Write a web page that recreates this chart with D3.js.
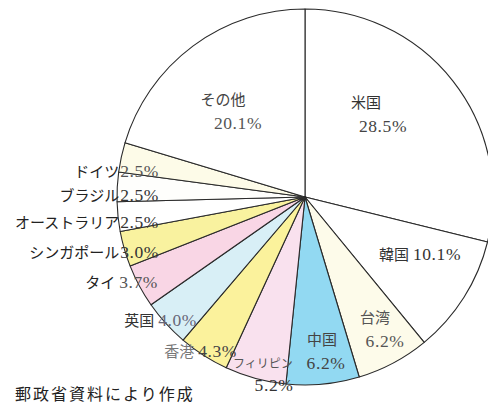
<!DOCTYPE html>
<html>
<head>
<meta charset="utf-8">
<script src="https://cdn.jsdelivr.net/npm/d3@7"></script>
<style>
  html, body { margin: 0; padding: 0; background: #fff; }
  svg { display: block; }
</style>
</head>
<body>
<svg id="chart" width="488" height="406"></svg>
<script>
// 国・地域別の構成比（%）、12時の位置から時計回り
const countries = ["米国", "韓国", "台湾", "中国", "フィリピン", "香港", "英国", "タイ", "シンガポール", "オーストラリア", "ブラジル", "ドイツ", "その他"];
const shares = [28.5, 10.1, 6.2, 6.2, 5.2, 4.3, 4.0, 3.7, 3.0, 2.5, 2.5, 2.5, 20.1];
const fills = ["#ffffff", "#ffffff", "#fdfbea", "#92d9f2", "#f9e1ee", "#fbf29c", "#d8eff6", "#f9d6e5", "#f9f29f", "#ffffff", "#fefefc", "#fdfbe8", "#ffffff"];
const sourceNote = "郵政省資料により作成";

// ラベルの配置（名前と数値を一行にするか二行にするか）
const labelLayout = [
  { x: 366, y: 103, anchor: "middle", lines: 2, dx2: 17, color: "#333", pct: "#444" },
  { x: 420, y: 255, anchor: "middle", lines: 1, color: "#333", pct: "#333" },
  { x: 375, y: 318, anchor: "middle", lines: 2, dx2: 10, color: "#555", pct: "#555" },
  { x: 322, y: 340, anchor: "middle", lines: 2, dx2: 4, color: "#444", pct: "#444" },
  { x: 263, y: 364, anchor: "middle", lines: 2, dx2: 11, color: "#555", pct: "#333", size: 12, gap: 21 },
  { x: 237, y: 352, anchor: "end", lines: 1, color: "#777", pct: "#444" },
  { x: 197, y: 321, anchor: "end", lines: 1, color: "#333", pct: "#667" },
  { x: 158, y: 283, anchor: "end", lines: 1, color: "#222", pct: "#555" },
  { x: 159, y: 253, anchor: "end", lines: 1, color: "#222", pct: "#333" },
  { x: 159, y: 223, anchor: "end", lines: 1, color: "#222", pct: "#333" },
  { x: 159, y: 196, anchor: "end", lines: 1, color: "#222", pct: "#333" },
  { x: 159, y: 172, anchor: "end", lines: 1, color: "#222", pct: "#555" },
  { x: 223, y: 100, anchor: "middle", lines: 2, dx2: 15, color: "#444", pct: "#555" }
];

const svg = d3.select("#chart");
const cx = 305, cy = 197, radius = 188;

const rows = countries.map((name, i) => ({ name, value: shares[i], fill: fills[i], layout: labelLayout[i] }));

const pie = d3.pie().sort(null).value(d => d.value).startAngle(0).endAngle(2 * Math.PI);
const arc = d3.arc().innerRadius(0).outerRadius(radius);

const g = svg.append("g").attr("transform", `translate(${cx},${cy})`);

g.selectAll("path.slice")
  .data(pie(rows))
  .join("path")
  .attr("class", "slice")
  .attr("d", arc)
  .attr("fill", d => d.data.fill)
  .attr("stroke", "#2a2a2a")
  .attr("stroke-width", 1.1)
  .attr("stroke-linejoin", "round");

const jpFont = "'Noto Sans CJK JP', 'Noto Sans', sans-serif";
const numFont = "'Liberation Serif', 'DejaVu Serif', serif";
const fmt = v => v.toFixed(1) + "%";

const labels = svg.append("g");
rows.forEach(d => {
  const L = d.layout;
  if (L.lines === 1) {
    const t = labels.append("text")
      .attr("x", L.x).attr("y", L.y)
      .attr("dy", "0.36em")
      .attr("text-anchor", L.anchor)
      .attr("font-size", 15);
    t.append("tspan").attr("font-family", jpFont).attr("fill", L.color).text(d.name);
    t.append("tspan").attr("font-family", numFont).attr("font-size", 17.5).attr("fill", L.pct)
      .attr("letter-spacing", 0.6)
      .attr("dx", d.name.length <= 2 ? 4 : 1).text(fmt(d.value));
  } else {
    labels.append("text")
      .attr("x", L.x).attr("y", L.y)
      .attr("dy", "0.36em")
      .attr("text-anchor", L.anchor)
      .attr("font-family", jpFont)
      .attr("font-size", L.size || 15)
      .attr("fill", L.color)
      .text(d.name);
    labels.append("text")
      .attr("x", L.x + (L.dx2 || 0)).attr("y", L.y + (L.gap || 23))
      .attr("dy", "0.36em")
      .attr("text-anchor", "middle")
      .attr("font-family", numFont)
      .attr("font-size", 17.5)
      .attr("letter-spacing", 0.6)
      .attr("fill", L.pct)
      .text(fmt(d.value));
  }
});

svg.append("text")
  .attr("x", 15).attr("y", 394)
  .attr("dy", "0.36em")
  .attr("font-family", jpFont)
  .attr("font-size", 16)
  .attr("letter-spacing", 2)
  .attr("fill", "#222")
  .text(sourceNote);
</script>
</body>
</html>
